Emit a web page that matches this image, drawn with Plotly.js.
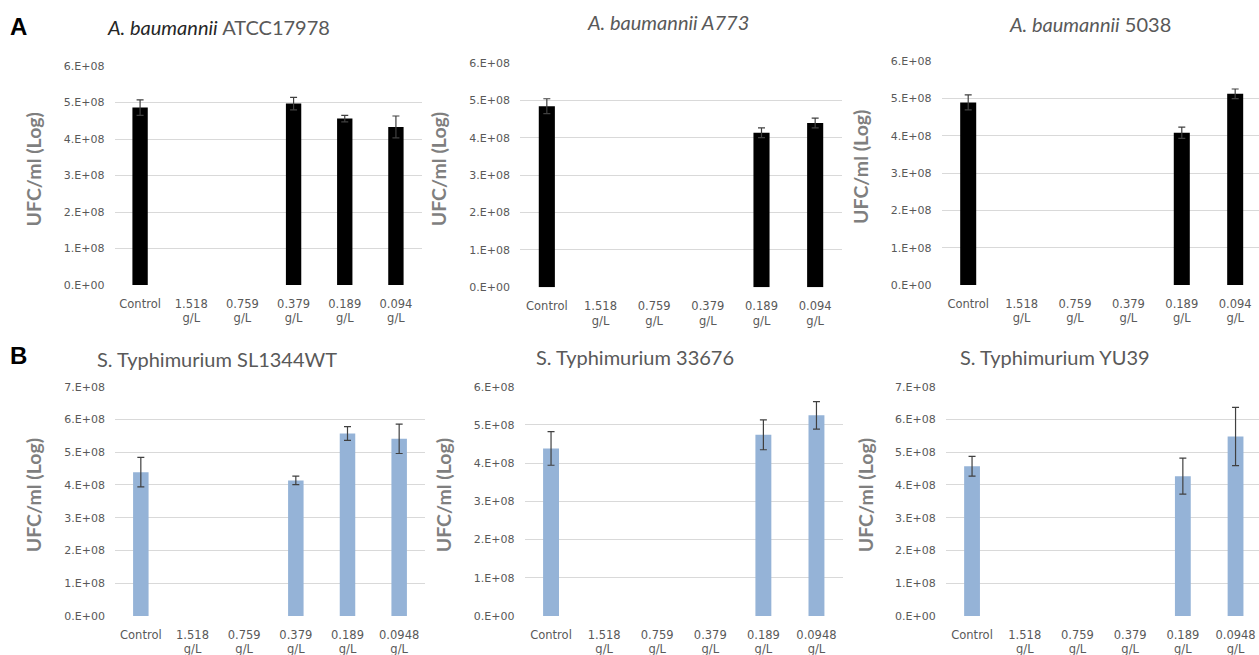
<!DOCTYPE html>
<html>
<head>
<meta charset="utf-8">
<script src="https://cdn.plot.ly/plotly-3.0.1.min.js"></script>
<style>html,body{margin:0;padding:0;background:#fff;}#chart{width:1259px;height:655px;}</style>
</head>
<body>
<div id="chart"></div>
<script>
// Categories (tick labels)
const catsTop = ["Control", "1.518<br>g/L", "0.759<br>g/L", "0.379<br>g/L", "0.189<br>g/L", "0.094<br>g/L"];
const catsBottom = ["Control", "1.518<br>g/L", "0.759<br>g/L", "0.379<br>g/L", "0.189<br>g/L", "0.0948<br>g/L"];

// Series values (UFC/ml) and error bars
const abATCC17978 = [4.86e8, null, null, 4.97e8, 4.56e8, 4.33e8];
const abATCC17978Err = [0.21e8, 0, 0, 0.17e8, 0.09e8, 0.30e8];
const abA773 = [4.85e8, null, null, null, 4.14e8, 4.40e8];
const abA773Err = [0.20e8, 0, 0, 0, 0.13e8, 0.13e8];
const ab5038 = [4.89e8, null, null, null, 4.08e8, 5.12e8];
const ab5038Err = [0.20e8, 0, 0, 0, 0.15e8, 0.13e8];
const stSL1344WT = [4.39e8, null, null, 4.14e8, 5.57e8, 5.41e8];
const stSL1344WTErr = [0.45e8, 0, 0, 0.13e8, 0.21e8, 0.45e8];
const st33676 = [4.385e8, null, null, null, 4.74e8, 5.25e8];
const st33676Err = [0.44e8, 0, 0, 0, 0.39e8, 0.36e8];
const stYU39 = [4.57e8, null, null, null, 4.27e8, 5.48e8];
const stYU39Err = [0.30e8, 0, 0, 0, 0.55e8, 0.89e8];

// Y tick labels
const yTickVals6 = [0, 1e8, 2e8, 3e8, 4e8, 5e8, 6e8];
const yTickText6 = ["0.E+00", "1.E+08", "2.E+08", "3.E+08", "4.E+08", "5.E+08", "6.E+08"];
const yTickVals7 = [0, 1e8, 2e8, 3e8, 4e8, 5e8, 6e8, 7e8];
const yTickText7 = ["0.E+00", "1.E+08", "2.E+08", "3.E+08", "4.E+08", "5.E+08", "6.E+08", "7.E+08"];

// Titles
const panelTitles = [
  "<span style='color:#262626'><i>A. baumannii</i></span> ATCC17978",
  "<i>A. baumannii A773</i>",
  "<i>A. baumannii</i> 5038",
  "S. Typhimurium SL1344WT",
  "S. Typhimurium 33676",
  "S. Typhimurium YU39"
];
const yTitle = "UFC/ml (Log)";

const W = 1259, H = 655;
const black = "#000000", blue = "#95b3d7";

const panels = [
  {x0:114.5, x1:421.5, y0:66, y1:285, xmax:5.5, cats:catsTop, v:abATCC17978, e:abATCC17978Err, c:black, ymax:6e8, tv:yTickVals6, tt:yTickText6, tx:218, ty:27, yx:33},
  {x0:520, x1:842, y0:63.3, y1:287.3, xmax:5.5, cats:catsTop, v:abA773, e:abA773Err, c:black, ymax:6e8, tv:yTickVals6, tt:yTickText6, tx:668, ty:22, yx:438},
  {x0:941.5, x1:1259, y0:61, y1:285, xmax:5.446, cats:catsTop, v:ab5038, e:ab5038Err, c:black, ymax:6e8, tv:yTickVals6, tt:yTickText6, tx:1090, ty:24, yx:860},
  {x0:115, x1:425, y0:386.7, y1:616, xmax:5.5, cats:catsBottom, v:stSL1344WT, e:stSL1344WTErr, c:blue, ymax:7e8, tv:yTickVals7, tt:yTickText7, tx:217, ty:359, yx:33},
  {x0:524.5, x1:843, y0:386.7, y1:616, xmax:5.5, cats:catsBottom, v:st33676, e:st33676Err, c:blue, ymax:6e8, tv:yTickVals6, tt:yTickText6, tx:635, ty:357, yx:443},
  {x0:945.7, x1:1259, y0:386.7, y1:616, xmax:5.445, cats:catsBottom, v:stYU39, e:stYU39Err, c:blue, ymax:7e8, tv:yTickVals7, tt:yTickText7, tx:1055, ty:357, yx:865}
];

const data = [];
const layout = {
  width: W, height: H,
  margin: {l:0, r:0, t:0, b:0},
  paper_bgcolor: "#fff", plot_bgcolor: "rgba(0,0,0,0)",
  showlegend: false,
  annotations: []
};

const yTickFont = {family: "DejaVu Sans, sans-serif", size: 11, color: "#595959"};
const xTickFont = {family: "DejaVu Sans, sans-serif", size: 11.5, color: "#595959"};

panels.forEach((p, i) => {
  const n = i === 0 ? "" : String(i + 1);
  data.push({
    type: "bar",
    x: p.cats, y: p.v,
    xaxis: "x" + n, yaxis: "y" + n,
    width: 0.3,
    marker: {color: p.c, line: {width: 0}},
    error_y: {type: "data", array: p.e, visible: true, color: "#404040", thickness: 1.2, width: 3.5},
    hoverinfo: "skip"
  });
  layout["xaxis" + n] = {
    domain: [p.x0 / W, p.x1 / W],
    anchor: "y" + n,
    type: "category",
    range: [-0.5, p.xmax],
    showgrid: false, zeroline: false,
    showline: false,
    ticks: "", ticklabelstandoff: 10,
    tickfont: xTickFont, tickangle: 0,
    fixedrange: true
  };
  layout["yaxis" + n] = {
    domain: [1 - p.y1 / H, 1 - p.y0 / H],
    anchor: "x" + n,
    range: [0, p.ymax],
    tickvals: p.tv, ticktext: p.tt,
    showgrid: true, gridcolor: "#d9d9d9", gridwidth: 1,
    zeroline: false, showline: false,
    ticks: "", ticklabelstandoff: 9,
    tickfont: yTickFont,
    fixedrange: true
  };
  layout.annotations.push({
    xref: "paper", yref: "paper", x: p.tx / W, y: 1 - p.ty / H,
    xanchor: "center", yanchor: "middle", showarrow: false,
    text: panelTitles[i],
    font: {family: "Lato, sans-serif", size: 20, color: "#595959"}
  });
  layout.annotations.push({
    xref: "paper", yref: "paper", x: p.yx / W, y: 1 - ((p.y0 + p.y1) / 2 - 6) / H,
    xanchor: "center", yanchor: "middle", showarrow: false, textangle: -90,
    text: yTitle,
    font: {family: "Lato, sans-serif", size: 19.5, color: "#7f7f7f", weight: 700}
  });
});

layout.annotations.push({xref:"paper", yref:"paper", x:18/W, y:1-27/H, xanchor:"center", yanchor:"middle", showarrow:false,
  text:"<b>A</b>", font:{family:"Liberation Sans, Arial, sans-serif", size:24, color:"#000"}});
layout.annotations.push({xref:"paper", yref:"paper", x:18/W, y:1-355/H, xanchor:"center", yanchor:"middle", showarrow:false,
  text:"<b>B</b>", font:{family:"Liberation Sans, Arial, sans-serif", size:24, color:"#000"}});

Plotly.newPlot("chart", data, layout, {staticPlot: true, displayModeBar: false});
</script>
</body>
</html>
